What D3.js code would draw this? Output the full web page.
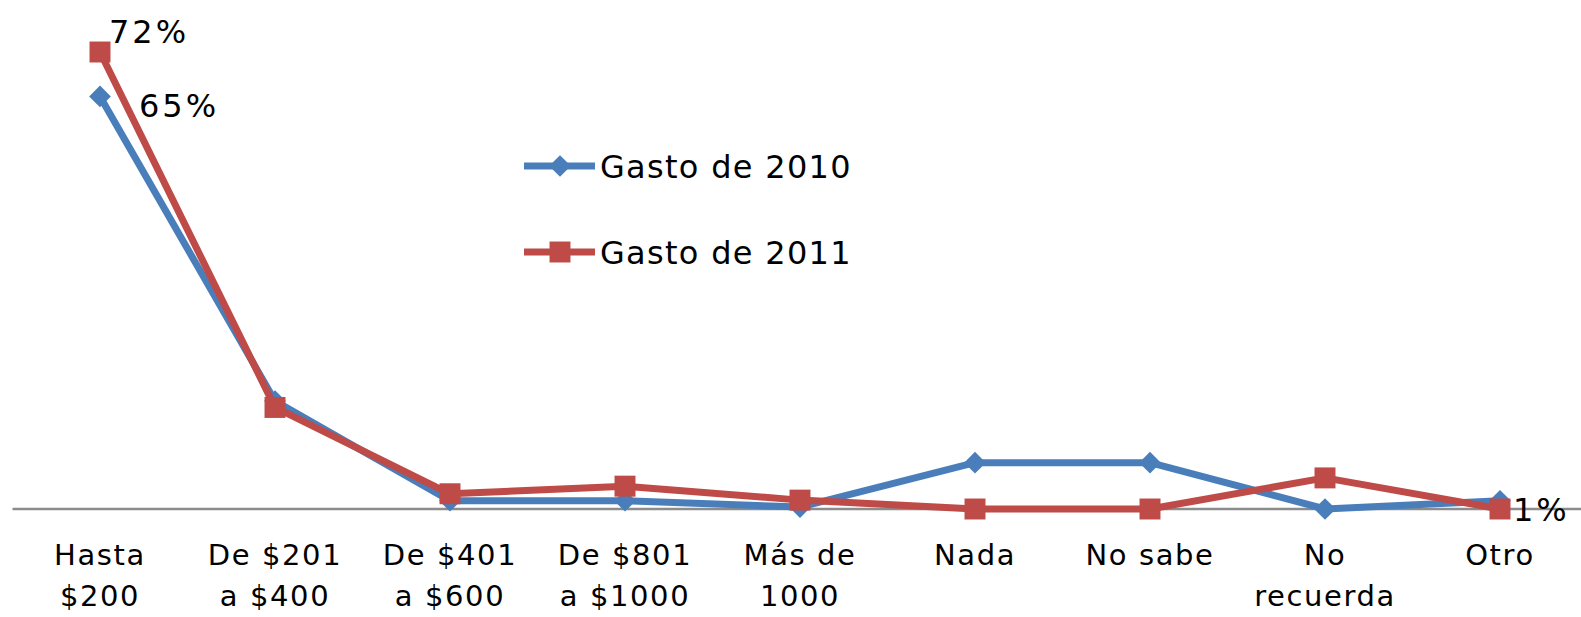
<!DOCTYPE html>
<html>
<head>
<meta charset="utf-8">
<script src="https://cdn.jsdelivr.net/npm/d3@7"></script>
<style>
  body { margin: 0; background: #fff; }
  svg text { font-family: "DejaVu Sans", Verdana, sans-serif; fill: #000; }
</style>
</head>
<body>
<svg width="1581" height="617"></svg>
<script>
var categories = [
  ["Hasta", "$200"], ["De $201", "a $400"], ["De $401", "a $600"], ["De $801", "a $1000"],
  ["Más de", "1000"], ["Nada"], ["No sabe"], ["No", "recuerda"], ["Otro"]
];
var gasto2010 = [65, 17, 1.3, 1.3, 0.3, 7.3, 7.3, 0, 1.3];
var gasto2011 = [72, 16, 2.4, 3.6, 1.4, 0, 0, 4.9, 0];
var seriesNames = ["Gasto de 2010", "Gasto de 2011"];
var pointLabels = [
  { series: 1, index: 0, text: "72%", dx: 9, dy: -9 },
  { series: 0, index: 0, text: "65%", dx: 39, dy: 21 },
  { series: 0, index: 8, text: "1%", dx: 13, dy: 20 }
];

var svg = d3.select("svg"),
    width = +svg.attr("width"),
    height = +svg.attr("height");

var colors = ["#4a7ebb", "#be4b48"];

var x = d3.scaleBand()
    .domain(d3.range(categories.length))
    .range([12.5, 1587.5]);

var y = d3.scaleLinear()
    .domain([0, 72])
    .range([509, 52]);

var cx = function(i) { return x(i) + x.bandwidth() / 2; };

// axis line
svg.append("line")
    .attr("x1", x.range()[0])
    .attr("x2", x.range()[1])
    .attr("y1", y(0))
    .attr("y2", y(0))
    .attr("stroke", "#8c8c8c")
    .attr("stroke-width", 2.5);

// category labels
var catG = svg.append("g");
categories.forEach(function(lines, i) {
  var t = catG.append("text")
      .attr("text-anchor", "middle")
      .attr("font-size", 29)
      .attr("letter-spacing", 1.6)
      .attr("transform", "translate(" + cx(i) + ",565)");
  lines.forEach(function(l, k) {
    t.append("tspan").attr("x", 0).attr("y", k * 41).text(l);
  });
});

var line = d3.line()
    .x(function(d, i) { return cx(i); })
    .y(function(d) { return y(d); });

var diamond = d3.symbol().type(d3.symbolDiamond2).size(300);
var square = d3.symbol().type(d3.symbolSquare2).size(560);

function drawSeries(data, k) {
  svg.append("path")
      .datum(data)
      .attr("fill", "none")
      .attr("stroke", colors[k])
      .attr("stroke-width", 7)
      .attr("stroke-linejoin", "round")
      .attr("d", line);

  svg.append("g").selectAll("path")
      .data(data)
    .enter().append("path")
      .attr("transform", function(d, i) { return "translate(" + cx(i) + "," + y(d) + ")"; })
      .attr("d", k === 0 ? diamond : square)
      .attr("fill", colors[k]);
}

drawSeries(gasto2010, 0);
drawSeries(gasto2011, 1);

// point labels
var allData = [gasto2010, gasto2011];
svg.append("g").selectAll("text")
    .data(pointLabels)
  .enter().append("text")
    .attr("x", function(d) { return cx(d.index) + d.dx; })
    .attr("y", function(d) { return y(allData[d.series][d.index]) + d.dy; })
    .attr("font-size", 32)
    .attr("letter-spacing", 3)
    .text(function(d) { return d.text; });

// legend
var legend = svg.append("g").selectAll("g")
    .data(seriesNames)
  .enter().append("g")
    .attr("transform", function(d, i) { return "translate(524," + (166 + i * 86) + ")"; });

legend.append("line")
    .attr("x1", 0).attr("x2", 71)
    .attr("stroke", function(d, i) { return colors[i]; })
    .attr("stroke-width", 7);

legend.append("path")
    .attr("transform", "translate(36,0)")
    .attr("d", function(d, i) { return i === 0 ? diamond() : square(); })
    .attr("fill", function(d, i) { return colors[i]; });

legend.append("text")
    .attr("x", 76)
    .attr("dy", "0.36em")
    .attr("font-size", 32)
    .attr("letter-spacing", 1.3)
    .text(function(d) { return d; });
</script>
</body>
</html>
